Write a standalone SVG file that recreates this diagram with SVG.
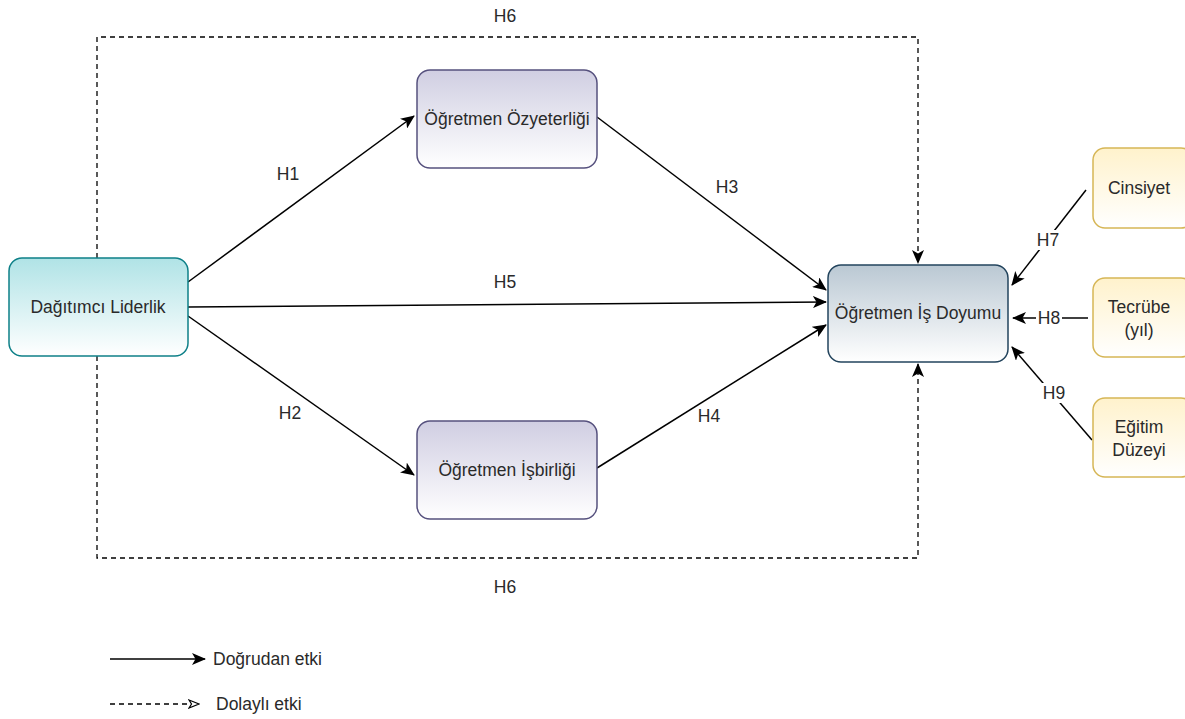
<svg xmlns="http://www.w3.org/2000/svg" width="1185" height="719" viewBox="0 0 1185 719">
  <defs>
    <linearGradient id="gTeal" x1="0" y1="0" x2="0" y2="1">
      <stop offset="0" stop-color="#b0e3e6"/>
      <stop offset="1" stop-color="#ffffff"/>
    </linearGradient>
    <linearGradient id="gPurple" x1="0" y1="0" x2="0" y2="1">
      <stop offset="0" stop-color="#d0cee2"/>
      <stop offset="1" stop-color="#ffffff"/>
    </linearGradient>
    <linearGradient id="gSlate" x1="0" y1="0" x2="0" y2="1">
      <stop offset="0" stop-color="#bac8d3"/>
      <stop offset="1" stop-color="#ffffff"/>
    </linearGradient>
    <linearGradient id="gYellow" x1="0" y1="0" x2="0" y2="1">
      <stop offset="0" stop-color="#fff2cc"/>
      <stop offset="1" stop-color="#ffffff"/>
    </linearGradient>
    <marker id="arr" viewBox="0 0 14 12" refX="13" refY="6" markerWidth="14" markerHeight="12" markerUnits="userSpaceOnUse" orient="auto">
      <path d="M0,0 L14,6 L0,12 L3.5,6 Z" fill="#000"/>
    </marker>
    <marker id="arrOpen" viewBox="0 0 12 10" refX="11" refY="5" markerWidth="12" markerHeight="10" markerUnits="userSpaceOnUse" orient="auto">
      <path d="M1,1 L11,5 L1,9 L3.5,5 Z" fill="#fff" stroke="#000" stroke-width="1.2"/>
    </marker>
  </defs>
  <style>
    text { font-family: "Liberation Sans", Arial, sans-serif; font-size: 17.5px; fill: #2a2a2a; }
    .lbl { text-anchor: middle; dominant-baseline: central; }
    .edge { fill: none; stroke: #000; stroke-width: 1.5; }
    .dash { fill: none; stroke: #000; stroke-width: 1.3; stroke-dasharray: 5 4; }
    .teal { fill: url(#gTeal); stroke: #0e8088; stroke-width: 1.5; }
    .purple { fill: url(#gPurple); stroke: #56517e; stroke-width: 1.5; }
    .slate { fill: url(#gSlate); stroke: #23445d; stroke-width: 1.5; }
    .yellow { fill: url(#gYellow); stroke: #d6b656; stroke-width: 1.5; }
  </style>

  <rect width="1185" height="719" fill="#ffffff"/>

  <!-- connectors -->
  <g id="connectors">
    <!-- indirect effect (H6): around the mediators, top and bottom -->
    <path class="dash" d="M97,258 L97,37 L918,37 L918,263" marker-end="url(#arr)"/>
    <path class="dash" d="M97,356 L97,558 L918,558 L918,364" marker-end="url(#arr)"/>
    <!-- direct effects -->
    <path class="edge" d="M188,282 L414,116" marker-end="url(#arr)"/>
    <path class="edge" d="M188,316 L414,475" marker-end="url(#arr)"/>
    <path class="edge" d="M188,307 L826,302" marker-end="url(#arr)"/>
    <path class="edge" d="M597,117 L826,290" marker-end="url(#arr)"/>
    <path class="edge" d="M597,468 L826,325" marker-end="url(#arr)"/>
    <path class="edge" d="M1086,190 L1012,285" marker-end="url(#arr)"/>
    <path class="edge" d="M1088,318 L1013,318" marker-end="url(#arr)"/>
    <path class="edge" d="M1092,440 L1012,347" marker-end="url(#arr)"/>

    <!-- edge labels -->
    <text class="lbl" x="505" y="16">H6</text>
    <text class="lbl" x="505" y="587">H6</text>
    <text class="lbl" x="288" y="174">H1</text>
    <text class="lbl" x="290" y="413">H2</text>
    <text class="lbl" x="505" y="282">H5</text>
    <text class="lbl" x="727" y="187">H3</text>
    <text class="lbl" x="709" y="416">H4</text>
    <rect x="1035" y="230" width="26" height="20" fill="#fff"/>
    <text class="lbl" x="1048" y="240">H7</text>
    <rect x="1036" y="308" width="26" height="20" fill="#fff"/>
    <text class="lbl" x="1049" y="318">H8</text>
    <rect x="1041" y="383" width="26" height="20" fill="#fff"/>
    <text class="lbl" x="1054" y="393">H9</text>
  </g>

  <!-- nodes -->
  <g id="dagitimci-liderlik">
    <rect class="teal" x="9" y="258" width="179" height="98" rx="13"/>
    <text class="lbl" x="98" y="307">Dağıtımcı Liderlik</text>
  </g>
  <g id="ozyeterlik">
    <rect class="purple" x="417" y="70" width="180" height="98" rx="13"/>
    <text class="lbl" x="507" y="119">Öğretmen Özyeterliği</text>
  </g>
  <g id="isbirligi">
    <rect class="purple" x="417" y="421" width="180" height="98" rx="13"/>
    <text class="lbl" x="507" y="470">Öğretmen İşbirliği</text>
  </g>
  <g id="is-doyumu">
    <rect class="slate" x="828" y="265" width="180" height="97" rx="13"/>
    <text class="lbl" x="918" y="313">Öğretmen İş Doyumu</text>
  </g>
  <g id="cinsiyet">
    <rect class="yellow" x="1093" y="148" width="100" height="80" rx="12"/>
    <text class="lbl" x="1139" y="188">Cinsiyet</text>
  </g>
  <g id="tecrube">
    <rect class="yellow" x="1093" y="278" width="100" height="79" rx="12"/>
    <text class="lbl" x="1139" y="307">Tecrübe</text>
    <text class="lbl" x="1139" y="330">(yıl)</text>
  </g>
  <g id="egitim-duzeyi">
    <rect class="yellow" x="1093" y="398" width="100" height="79" rx="12"/>
    <text class="lbl" x="1139" y="427">Eğitim</text>
    <text class="lbl" x="1139" y="450">Düzeyi</text>
  </g>

  <!-- legend -->
  <g id="legend">
    <path class="edge" d="M110,659 L205,659" marker-end="url(#arr)"/>
    <text x="213" y="665">Doğrudan etki</text>
    <path class="dash" d="M110,704 L199,704" marker-end="url(#arrOpen)"/>
    <text x="216" y="710">Dolaylı etki</text>
  </g>
</svg>
